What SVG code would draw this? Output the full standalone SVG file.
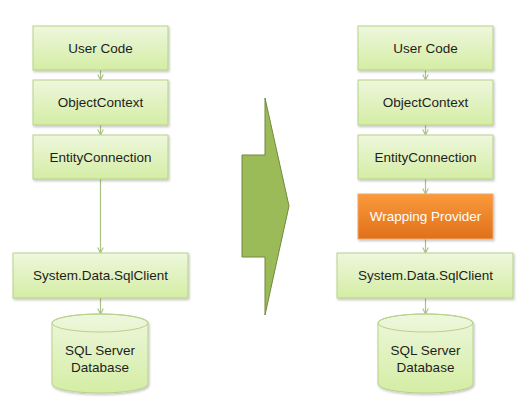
<svg xmlns="http://www.w3.org/2000/svg" width="528" height="408" viewBox="0 0 528 408">
<style>
.box{fill:url(#g);stroke:#b9d18a;stroke-width:1;filter:url(#sh)}
.obox{fill:url(#o);stroke:#f0a868;stroke-width:1;filter:url(#sh)}
.t{font-family:"Liberation Sans",Arial,sans-serif;font-size:13.5px;fill:#1e1e1e;text-anchor:middle;dominant-baseline:central}
.tw{fill:#ffffff}
.c{stroke:#a9c283;stroke-width:1.2;fill:none;marker-end:url(#m)}
</style>
<defs>
<linearGradient id="g" x1="0" y1="0" x2="0" y2="1">
<stop offset="0" stop-color="#eef7dd"/>
<stop offset="1" stop-color="#d4eda4"/>
</linearGradient>
<linearGradient id="o" x1="0" y1="0" x2="0" y2="1">
<stop offset="0" stop-color="#fb9a3a"/>
<stop offset="1" stop-color="#e0701c"/>
</linearGradient>
<filter id="sh" x="-10%" y="-10%" width="125%" height="140%">
<feDropShadow dx="1" dy="1.5" stdDeviation="1" flood-color="#000" flood-opacity="0.25"/>
</filter>
<marker id="m" viewBox="0 0 10 10" refX="9" refY="5" markerWidth="7" markerHeight="7" markerUnits="userSpaceOnUse" orient="auto">
<path d="M1,1 L9,5 L1,9" fill="none" stroke="#a9c283" stroke-width="1.6"/>
</marker>
</defs>
<g id="connectors">
<line class="c" x1="100.5" y1="70" x2="100.5" y2="80"/>
<line class="c" x1="100.5" y1="125" x2="100.5" y2="135"/>
<line class="c" x1="100.5" y1="179" x2="100.5" y2="253"/>
<line class="c" x1="100.5" y1="298" x2="100.5" y2="314"/>
<line class="c" x1="425.5" y1="70" x2="425.5" y2="80"/>
<line class="c" x1="425.5" y1="125" x2="425.5" y2="135"/>
<line class="c" x1="425.5" y1="179" x2="425.5" y2="194"/>
<line class="c" x1="425.5" y1="239" x2="425.5" y2="253"/>
<line class="c" x1="425.5" y1="298" x2="425.5" y2="314"/>
</g>
<g id="big-arrow">
<polygon points="242,155 265,155 265,98 289,206 265,315 265,257 242,257" fill="#9bbb59" stroke="#71893f" stroke-width="1"/>
</g>
<g id="l-usercode"><rect class="box" x="33" y="26" width="135" height="44"/><text class="t" x="100.5" y="48">User Code</text></g>
<g id="l-objectcontext"><rect class="box" x="33" y="80" width="135" height="45"/><text class="t" x="100.5" y="102.5">ObjectContext</text></g>
<g id="l-entityconnection"><rect class="box" x="33" y="135" width="135" height="44"/><text class="t" x="100.5" y="157">EntityConnection</text></g>
<g id="l-sqlclient"><rect class="box" x="13" y="253" width="175" height="45"/><text class="t" x="100.5" y="275.5">System.Data.SqlClient</text></g>
<g id="l-database">
<path class="box" d="M52,323 A48,9 0 0 1 148,323 L148,384 A48,9 0 0 1 52,384 Z"/>
<ellipse cx="100" cy="323" rx="48" ry="9" fill="none" stroke="#b9d18a" stroke-width="1"/>
<text class="t" x="100" y="350">SQL Server</text>
<text class="t" x="100" y="367">Database</text>
</g>
<g id="r-usercode"><rect class="box" x="358" y="26" width="135" height="44"/><text class="t" x="425.5" y="48">User Code</text></g>
<g id="r-objectcontext"><rect class="box" x="358" y="80" width="135" height="45"/><text class="t" x="425.5" y="102.5">ObjectContext</text></g>
<g id="r-entityconnection"><rect class="box" x="358" y="135" width="135" height="44"/><text class="t" x="425.5" y="157">EntityConnection</text></g>
<g id="r-wrapping"><rect class="obox" x="358" y="194" width="135" height="45"/><text class="t tw" x="425.5" y="216.5">Wrapping Provider</text></g>
<g id="r-sqlclient"><rect class="box" x="337" y="253" width="176" height="45"/><text class="t" x="425.5" y="275.5">System.Data.SqlClient</text></g>
<g id="r-database">
<path class="box" d="M378,323 A47.5,9 0 0 1 473,323 L473,384 A47.5,9 0 0 1 378,384 Z"/>
<ellipse cx="425.5" cy="323" rx="47.5" ry="9" fill="none" stroke="#b9d18a" stroke-width="1"/>
<text class="t" x="425.5" y="350">SQL Server</text>
<text class="t" x="425.5" y="367">Database</text>
</g>
</svg>
